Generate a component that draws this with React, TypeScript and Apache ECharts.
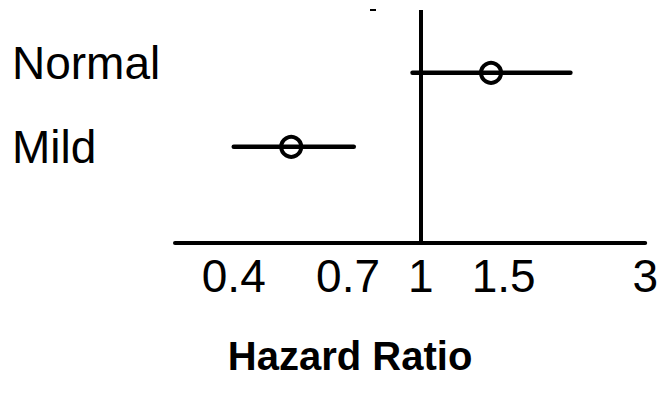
import React, { useEffect, useRef } from "react";
import * as echarts from "echarts";

// Forest plot data (hazard ratios with 95% CI)
const rowLabels = ["Mild", "Normal"]; // y positions 1, 2
const rowPos = [1, 2];
const hazardRatio = [0.53, 1.41];
const ciLower = [0.4, 0.96];
const ciUpper = [0.72, 2.08];
const xTicks = [0.4, 0.7, 1, 1.5, 3];

const FONT = "'Liberation Sans', Arial, sans-serif";

export default function App() {
  const ref = useRef<HTMLDivElement>(null);
  useEffect(() => {
    if (!ref.current) return;
    const chart = echarts.init(ref.current, null, { renderer: "svg" });
    const data = rowLabels.map((_, i) => [hazardRatio[i], ciLower[i], ciUpper[i], rowPos[i]]);
    chart.setOption({
      animation: false,
      backgroundColor: "#ffffff",
      grid: { left: 175, right: 14, top: 10, bottom: 151, containLabel: false },
      xAxis: {
        type: "log",
        min: 0.3,
        max: 3,
        name: "Hazard Ratio",
        nameLocation: "middle",
        nameGap: 93,
        nameTextStyle: {
          fontFamily: FONT,
          fontSize: 40,
          fontWeight: "bold",
          color: "#000",
          padding: [0, 120, 0, 0],
        },
        axisLine: { show: true, onZero: false, lineStyle: { color: "#000", width: 4 } },
        axisTick: { show: false },
        splitLine: { show: false },
        minorTick: { show: false },
        axisLabel: {
          customValues: xTicks,
          formatter: (v: number) => String(Math.round(v * 10) / 10),
          fontFamily: FONT,
          fontSize: 46,
          color: "#000",
          margin: 10,
        },
      },
      yAxis: {
        type: "value",
        min: -0.3,
        max: 2.85,
        axisLine: { show: false },
        axisTick: { show: false },
        splitLine: { show: false },
        axisLabel: {
          customValues: rowPos,
          formatter: (v: number) => {
            const i = rowPos.indexOf(v);
            const t = rowLabels[i] ?? "";
            return v === 2 ? "{up|" + t + "}" : "{n|" + t + "}";
          },
          align: "left",
          margin: 163,
          rich: {
            n: { fontFamily: FONT, fontSize: 46, color: "#000" },
            up: { fontFamily: FONT, fontSize: 46, color: "#000", padding: [0, 0, 20, 0] },
          },
        },
      },
      series: [
        {
          type: "custom",
          data,
          encode: { x: [0, 1, 2], y: 3 },
          renderItem: (params: any, api: any) => {
            const y = api.value(3);
            const lo = api.coord([api.value(1), y]);
            const hi = api.coord([api.value(2), y]);
            const c = api.coord([api.value(0), y]);
            return {
              type: "group",
              children: [
                {
                  type: "line",
                  shape: { x1: lo[0], y1: lo[1], x2: hi[0], y2: hi[1] },
                  style: { stroke: "#000", lineWidth: 4.5, lineCap: "round" },
                },
                {
                  type: "circle",
                  shape: { cx: c[0], cy: c[1], r: 10 },
                  style: { fill: "none", stroke: "#000", lineWidth: 4 },
                },
              ],
            };
          },
          markLine: {
            silent: true,
            symbol: "none",
            label: { show: false },
            lineStyle: { color: "#000", width: 4, type: "solid" },
            data: [{ xAxis: 1 }],
          },
        },
      ],
      graphic: [
        { type: "rect", shape: { x: 370, y: 9, width: 6, height: 2 }, style: { fill: "#000" } },
      ],
    });
    return () => chart.dispose();
  }, []);
  return (
    <div
      ref={ref}
      style={{ position: "fixed", left: 0, top: 0, width: 661, height: 394, background: "#fff" }}
    />
  );
}
